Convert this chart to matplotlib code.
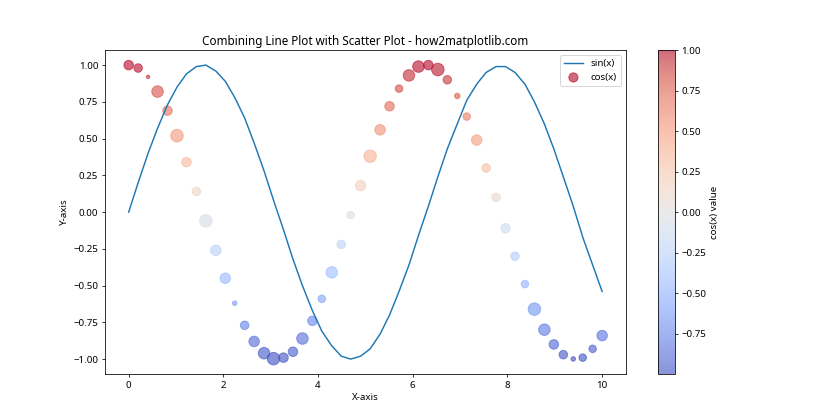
import matplotlib
matplotlib.use("Agg")
import matplotlib.pyplot as plt

plt.rcParams['font.family'] = ['Noto Sans', 'DejaVu Sans']

x = [0.00, 0.20, 0.41, 0.61, 0.82, 1.02, 1.22, 1.43, 1.63, 1.84,
     2.04, 2.24, 2.45, 2.65, 2.86, 3.06, 3.27, 3.47, 3.67, 3.88,
     4.08, 4.29, 4.49, 4.69, 4.90, 5.10, 5.31, 5.51, 5.71, 5.92,
     6.12, 6.33, 6.53, 6.73, 6.94, 7.14, 7.35, 7.55, 7.76, 7.96,
     8.16, 8.37, 8.57, 8.78, 8.98, 9.18, 9.39, 9.59, 9.80, 10.00]

sin_y = [0.00, 0.20, 0.40, 0.57, 0.73, 0.85, 0.94, 0.99, 1.00, 0.96,
         0.89, 0.78, 0.64, 0.47, 0.28, 0.08, -0.12, -0.32, -0.50, -0.67,
         -0.81, -0.91, -0.98, -1.00, -0.98, -0.93, -0.83, -0.70, -0.54, -0.36,
         -0.16, 0.04, 0.24, 0.43, 0.60, 0.76, 0.87, 0.95, 0.99, 0.99,
         0.95, 0.87, 0.75, 0.60, 0.43, 0.24, 0.04, -0.17, -0.36, -0.54]

cos_y = [1.00, 0.98, 0.92, 0.82, 0.69, 0.52, 0.34, 0.14, -0.06, -0.26,
         -0.45, -0.62, -0.77, -0.88, -0.96, -0.997, -0.99, -0.95, -0.86, -0.74,
         -0.59, -0.41, -0.22, -0.02, 0.18, 0.38, 0.56, 0.72, 0.84, 0.93,
         0.99, 1.00, 0.97, 0.90, 0.79, 0.65, 0.49, 0.30, 0.10, -0.11,
         -0.30, -0.49, -0.66, -0.80, -0.90, -0.97, -0.999, -0.99, -0.93, -0.84]

sizes = [96, 77, 13, 141, 96, 166, 96, 77, 166, 117,
         117, 22, 77, 117, 141, 166, 96, 96, 141, 96,
         60, 141, 77, 60, 117, 166, 117, 96, 60, 141,
         141, 96, 166, 77, 32, 60, 117, 77, 77, 96,
         77, 60, 166, 141, 96, 77, 22, 60, 60, 117]

fig, ax = plt.subplots(figsize=(12, 6), dpi=70)
ax.plot(x, sin_y, label='sin(x)')
sc = ax.scatter(x, cos_y, c=cos_y, s=sizes, cmap='coolwarm', alpha=0.6, label='cos(x)')
cb = plt.colorbar(sc, ax=ax)
cb.set_label('cos(x) value')
ax.set_title('Combining Line Plot with Scatter Plot - how2matplotlib.com', fontsize=12)
ax.set_xlabel('X-axis')
ax.set_ylabel('Y-axis')
ax.legend()
fig.savefig('out.png', dpi=70)
